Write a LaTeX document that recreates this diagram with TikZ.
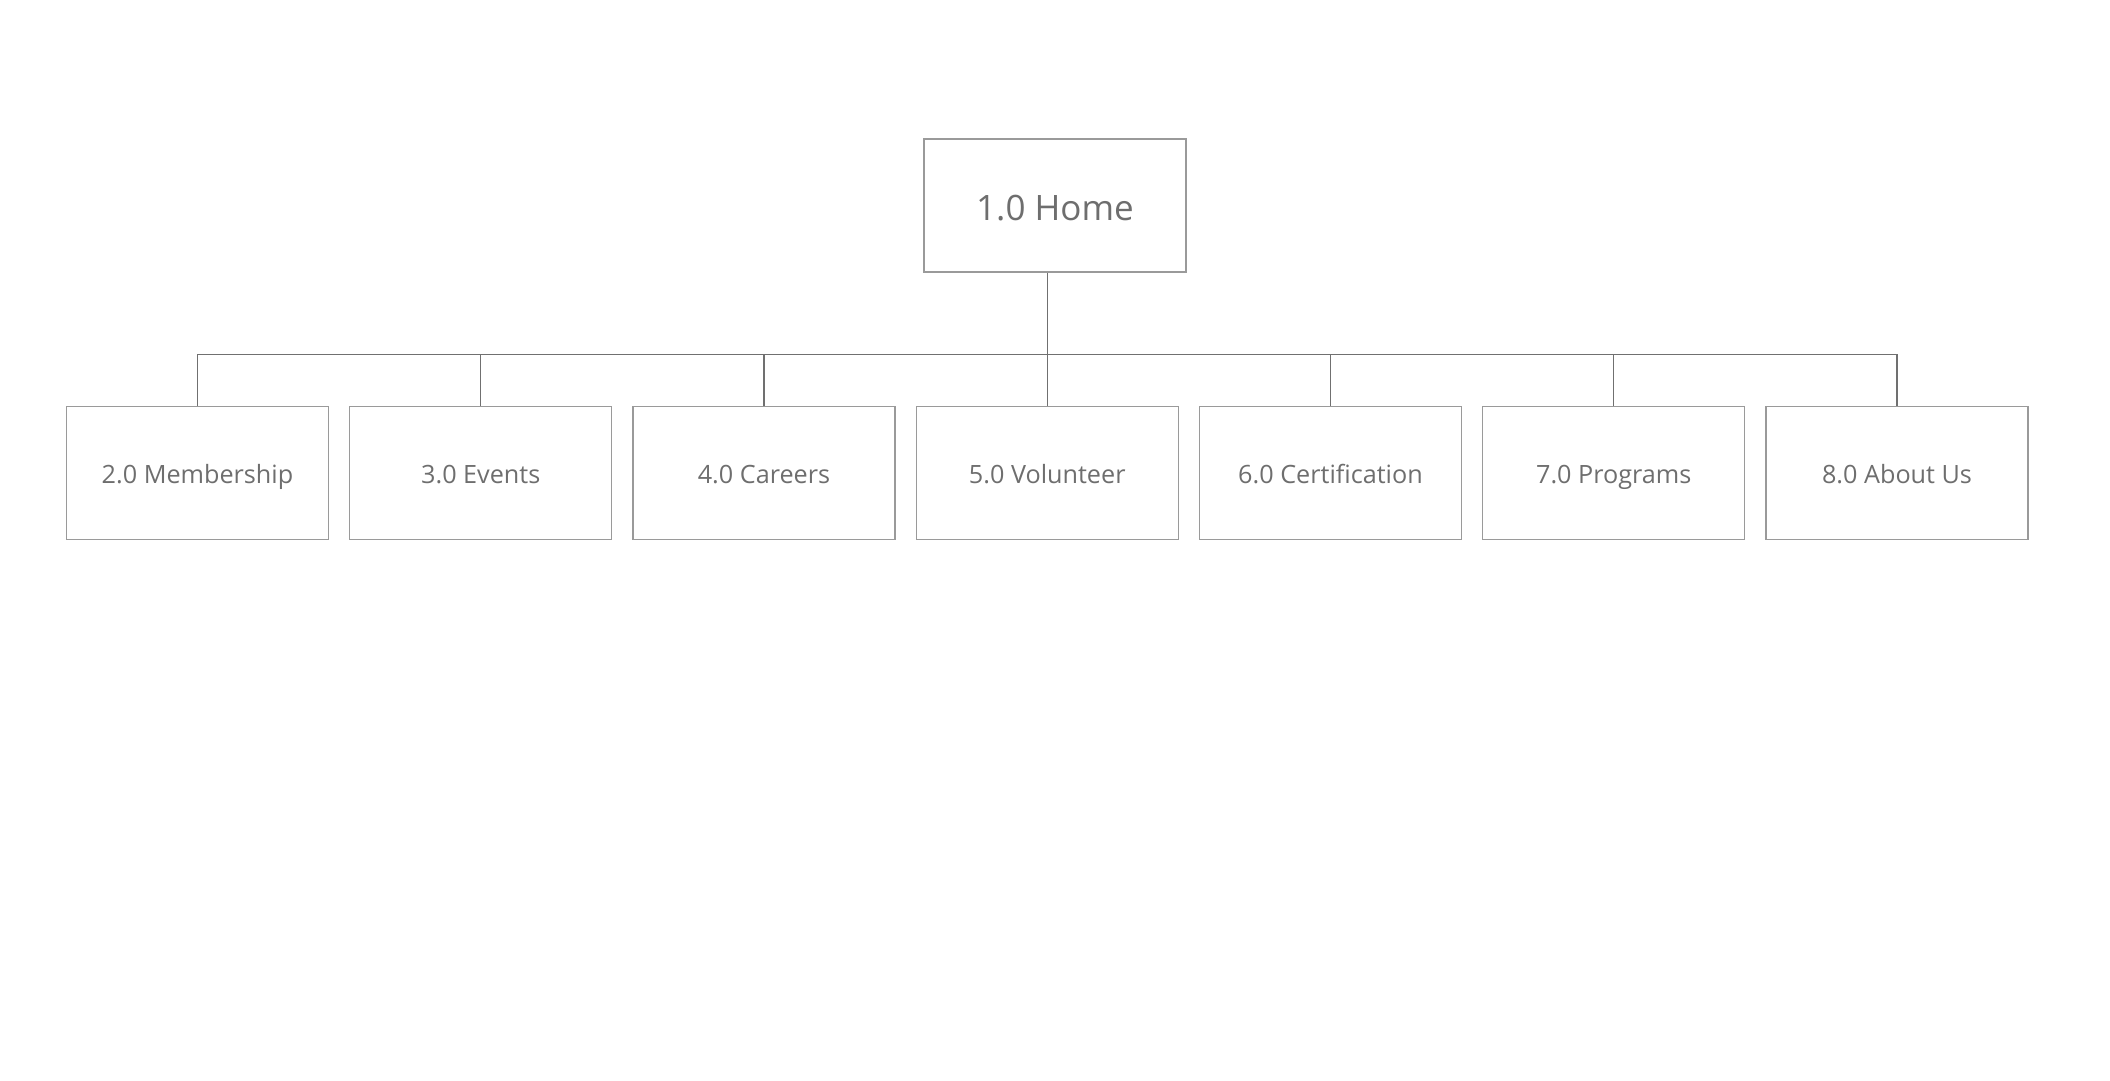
\documentclass[tikz,border=0pt]{standalone}
\usepackage{fontspec}
\setmainfont{Open Sans}
\definecolor{boxgray}{HTML}{9A9A9A}
\definecolor{linegray}{HTML}{707070}
\definecolor{txtgray}{HTML}{6E6E6E}
\begin{document}
\begin{tikzpicture}[x=1pt,y=1pt,
  box/.style={draw=boxgray, line width=1.3pt, minimum width=262pt, minimum height=133pt,
    inner sep=0pt, text=txtgray, text height=20pt, text depth=0pt,
    font=\fontsize{25.2}{30}\selectfont},
  link/.style={draw=linegray, line width=1.3pt}]
\useasboundingbox (0,0) rectangle (2110,1080);
\node[box, text height=30pt, font=\fontsize{35}{42}\selectfont] (home) at (1055,874.5) {1.0 Home};
\node[box] (c2) at (197.5,606.7) {2.0 Membership};
\node[box] (c3) at (480.75,606.7) {3.0 Events};
\node[box] (c4) at (764.0,606.7) {4.0 Careers};
\node[box] (c5) at (1047.25,606.7) {5.0 Volunteer};
\node[box] (c6) at (1330.5,606.7) {6.0 Certification};
\node[box] (c7) at (1613.75,606.7) {7.0 Programs};
\node[box] (c8) at (1897.0,606.7) {8.0 About Us};
\coordinate (busy) at (0,725.7);
\draw[link] (c2.north) |- (c8.north |- busy) -- (c8.north);
\draw[link] (home.south -| c5.north) -- (c5.north);
\foreach \n in {c3,c4,c6,c7} \draw[link] (\n.north) -- (\n.north |- busy);
\end{tikzpicture}
\end{document}
